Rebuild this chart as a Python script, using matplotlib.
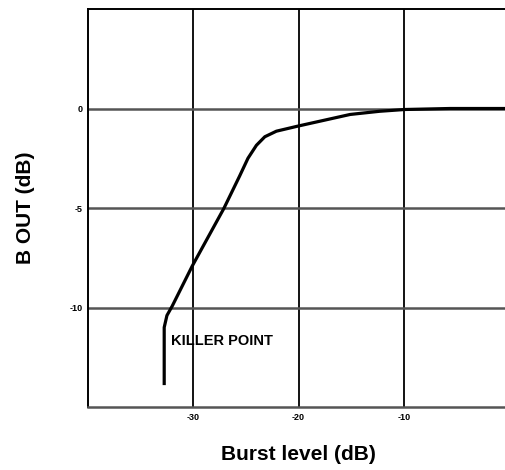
import matplotlib.pyplot as plt
import numpy as np

# values
burst_db = [-32.76, -32.76, -32.5, -32.0, -30.1, -27.1, -25.6, -24.8, -24.0,
            -23.2, -22.1, -20.1, -15.1, -12.3, -9.9, -5.6, 0.0]
b_out_db = [-13.9, -11.0, -10.4, -9.93, -7.92, -5.03, -3.4, -2.5, -1.85,
            -1.42, -1.14, -0.89, -0.30, -0.14, -0.05, 0.0, 0.0]
x_ticks = [-30, -20, -10]
y_ticks = [0, -5, -10]

plt.rcParams['font.family'] = ['Liberation Sans', 'DejaVu Sans']

fig = plt.figure(figsize=(5.05, 4.7), dpi=100)
ax = fig.add_axes([88 / 505, 63 / 470, 421 / 505, 398 / 470])

ax.set_xlim(-40, 0)
ax.set_ylim(-15, 5)

# grid lines of the original paper
for x in x_ticks:
    ax.axvline(x, color='black', lw=1.3, zorder=1)
for y in y_ticks:
    ax.axhline(y, color='#555555', lw=1.8, zorder=1)

ax.plot(burst_db, b_out_db, color='black', lw=2.3, solid_capstyle='butt',
        solid_joinstyle='round', zorder=3)

ax.text(-32.1, -11.66, 'KILLER POINT', fontsize=10.5, fontweight='bold',
        va='center', ha='left')

ax.set_xticks(x_ticks)
ax.set_yticks(y_ticks)
ax.set_xticklabels([str(v) for v in x_ticks], fontsize=6.5, fontweight='bold')
ax.set_yticklabels([str(v) for v in y_ticks], fontsize=6.5, fontweight='bold')
ax.tick_params(length=0, pad=4)

for s in ax.spines.values():
    s.set_color('black')
    s.set_linewidth(1.4)
ax.spines['bottom'].set_color('#555555')
ax.spines['bottom'].set_linewidth(1.8)

ax.set_xlabel('Burst level (dB)', fontsize=15, fontweight='bold', labelpad=17)
ax.set_ylabel('B OUT (dB)', fontsize=15, fontweight='bold', labelpad=25)

fig.savefig('out.png', dpi=100)
plt.close(fig)
